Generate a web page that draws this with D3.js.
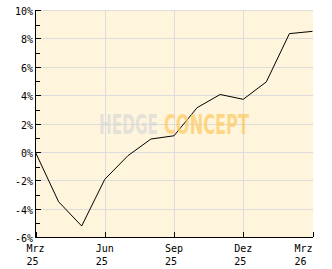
<!DOCTYPE html>
<html><head><meta charset="utf-8">
<script src="https://cdn.jsdelivr.net/npm/d3@7"></script>
<style>html,body{margin:0;padding:0;background:#fff;}svg{display:block;}</style>
</head><body>
<script>
const months = ["Mrz 25","Apr 25","Mai 25","Jun 25","Jul 25","Aug 25","Sep 25","Okt 25","Nov 25","Dez 25","Jan 26","Feb 26","Mrz 26"];
const values = [0, -3.48, -5.19, -1.90, -0.24, 0.94, 1.17, 3.15, 4.08, 3.74, 4.97, 8.37, 8.53];
const xTickIdx = [0, 3, 6, 9, 12];
const xTickMonth = ["Mrz","Jun","Sep","Dez","Mrz"];
const xTickYear = ["25","25","25","25","26"];
const yTicks = [-6,-4,-2,0,2,4,6,8,10];
const yMinor = [-5,-3,-1,1,3,5,7,9];

const W = 332, H = 269;
const svg = d3.select("body").append("svg").attr("width", W).attr("height", H);
const x = d3.scaleLinear().domain([0, 12]).range([35.5, 312.5]);
const y = d3.scaleLinear().domain([-6, 10]).range([237.5, 10.5]);

svg.append("rect").attr("x", 36).attr("y", 10).attr("width", 277).attr("height", 227).attr("fill", "#fff5dc");

// grid
const g = svg.append("g").attr("shape-rendering", "crispEdges");
g.selectAll(".hg").data(yTicks.filter(d => d > -6)).join("line")
  .attr("x1", 36).attr("x2", 313).attr("y1", d => y(d)).attr("y2", d => y(d))
  .attr("stroke", "#dcdcdc").attr("stroke-width", 1);
g.selectAll(".vg").data(xTickIdx.slice(1, 4)).join("line")
  .attr("x1", d => Math.round(x(d)) + 0.5).attr("x2", d => Math.round(x(d)) + 0.5)
  .attr("y1", 10).attr("y2", 237).attr("stroke", "#dcdcdc").attr("stroke-width", 1);

// line
const line = d3.line().x((d, i) => x(i)).y(d => y(d));
svg.append("path").datum(values).attr("d", line).attr("fill", "none")
  .attr("stroke", "#000").attr("stroke-width", 1);

// watermark
const wmFont = "'Liberation Sans Narrow', 'DejaVu Sans Condensed', sans-serif";
svg.append("text").attr("font-family", wmFont).attr("font-weight", "bold").attr("font-size", 26)
  .attr("x", 99).attr("y", 133.5).attr("textLength", 59).attr("lengthAdjust", "spacingAndGlyphs")
  .attr("fill", "#d8d8d8").attr("fill-opacity", 0.7).text("HEDGE");
svg.append("text").attr("font-family", wmFont).attr("font-weight", "bold").attr("font-size", 26)
  .attr("x", 164).attr("y", 133.5).attr("textLength", 85).attr("lengthAdjust", "spacingAndGlyphs")
  .attr("fill", "#fcc95e").attr("fill-opacity", 0.7).text("CONCEPT");

// axes
const ax = svg.append("g").attr("shape-rendering", "crispEdges").attr("stroke", "#000");
ax.append("line").attr("x1", 35.5).attr("x2", 35.5).attr("y1", 10).attr("y2", 238);
ax.append("line").attr("x1", 35).attr("x2", 313).attr("y1", 237.5).attr("y2", 237.5);
ax.selectAll(".yt").data(yTicks).join("line")
  .attr("x1", 35).attr("x2", 41).attr("y1", d => y(d)).attr("y2", d => y(d));
ax.selectAll(".ym").data(yMinor).join("line")
  .attr("x1", 35).attr("x2", 40).attr("y1", d => Math.round(y(d)) + 0.5).attr("y2", d => Math.round(y(d)) + 0.5);
ax.selectAll(".xt").data(xTickIdx).join("line")
  .attr("x1", d => Math.round(x(d)) + 0.5).attr("x2", d => Math.round(x(d)) + 0.5)
  .attr("y1", 232).attr("y2", 237);

const font = "'DejaVu Sans Mono', monospace";
svg.append("g").selectAll("text").data(yTicks).join("text")
  .attr("x", 33).attr("y", d => y(d) + 4.5).attr("text-anchor", "end")
  .attr("font-family", font).attr("font-size", 10).attr("fill", "#000")
  .text(d => d + "%");

const xl = svg.append("g").attr("font-family", font).attr("font-size", 10).attr("fill", "#000");
xTickIdx.forEach((d, i) => {
  const last = i === xTickIdx.length - 1;
  const x0 = last ? x(d) - 18 : x(d) - 9;
  xl.append("text").attr("x", x0).attr("y", 252).text(xTickMonth[i]);
  xl.append("text").attr("x", x0).attr("y", 265).text(xTickYear[i]);
});
</script>
</body></html>
